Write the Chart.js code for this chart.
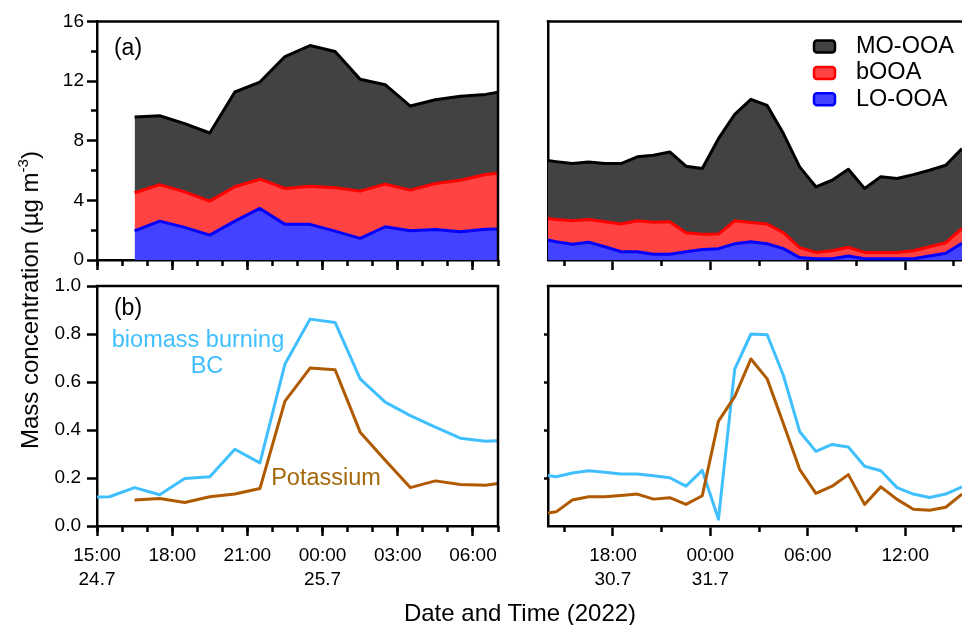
<!DOCTYPE html>
<html>
<head>
<meta charset="utf-8">
<script src="https://cdn.jsdelivr.net/npm/chart.js@4.4.1/dist/chart.umd.min.js"></script>
<style>
  html, body { margin: 0; padding: 0; background: #fff; overflow: hidden; }
  #page { position: relative; width: 962px; height: 625px; font-family: 'Liberation Sans', Arial, sans-serif; color: #000; }
  #page canvas { position: absolute; left: 0; top: 0; }
  .lbl { position: absolute; white-space: nowrap; line-height: 1; transform: translate(-50%, -50%); }
  .ylab { transform: translate(-50%, -50%) rotate(-90deg); }
  .ylab sup { font-size: 15px; vertical-align: 0; position: relative; top: -10px; }
</style>
</head>
<body>
<div id="page">
  <canvas id="topLeft" width="962" height="625"></canvas>
  <canvas id="topRight" width="962" height="625"></canvas>
  <canvas id="bottomLeft" width="962" height="625"></canvas>
  <canvas id="bottomRight" width="962" height="625"></canvas>

  <div class="lbl" style="left:128px; top:47px; font-size:23px">(a)</div>
  <div class="lbl" style="left:128px; top:307px; font-size:23px">(b)</div>
  <div class="lbl" style="left:198px; top:340px; font-size:23.5px; color:#40bfff">biomass burning</div>
  <div class="lbl" style="left:207px; top:366px; font-size:23.5px; color:#40bfff">BC</div>
  <div class="lbl" style="left:326px; top:478px; font-size:23.5px; color:#a4680a">Potassium</div>
  <div class="lbl" style="left:520px; top:613px; font-size:24px">Date and Time (2022)</div>
  <div class="lbl ylab" style="left:30px; top:300px; font-size:24px">Mass concentration (µg m<sup>-3</sup>)</div>
</div>

<script>
// hours counted from 24.7.2022 00:00
const leftTimes = [14.5, 15.5, 16.5, 17.5, 18.5, 19.5, 20.5, 21.5, 22.5, 23.5, 24.5, 25.5, 26.5, 27.5, 28.5, 29.5, 30.5, 31.5];
const leftLOOOA = [null, null, 1.96, 2.61, 2.19, 1.67, 2.61, 3.46, 2.39, 2.39, 1.94, 1.45, 2.23, 1.96, 2.05, 1.89, 2.07, 2.10];
const leftbOOA = [null, null, 2.55, 2.45, 2.38, 2.28, 2.30, 1.96, 2.41, 2.56, 2.90, 3.17, 2.86, 2.73, 3.08, 3.46, 3.66, 3.80];
const leftMOOOA = [null, null, 5.08, 4.62, 4.58, 4.57, 6.36, 6.52, 8.85, 9.44, 9.15, 7.50, 6.67, 5.64, 5.62, 5.63, 5.38, 5.50];
const leftBC = [0.120, 0.122, 0.160, 0.130, 0.198, 0.205, 0.320, 0.263, 0.675, 0.862, 0.848, 0.613, 0.516, 0.460, 0.412, 0.366, 0.353, 0.357];
const leftK = [null, null, 0.108, 0.115, 0.098, 0.122, 0.133, 0.156, 0.520, 0.658, 0.651, 0.391, 0.274, 0.160, 0.188, 0.173, 0.170, 0.184];

const rightTimes = [157.5, 158.5, 159.5, 160.5, 161.5, 162.5, 163.5, 164.5, 165.5, 166.5, 167.5, 168.5, 169.5, 170.5,
  171.5, 172.5, 173.5, 174.5, 175.5, 176.5, 177.5, 178.5, 179.5, 180.5, 181.5, 182.5, 183.5];
const rightLOOOA = [1.45, 1.23, 1.05, 1.20, 0.89, 0.56, 0.56, 0.38, 0.38, 0.56, 0.71, 0.76, 1.09, 1.23,
  1.09, 0.76, 0.16, 0.09, 0.09, 0.27, 0.09, 0.09, 0.09, 0.09, 0.27, 0.45, 1.12];
const rightbOOA = [1.40, 1.49, 1.58, 1.52, 1.68, 1.85, 2.07, 2.16, 2.19, 1.27, 1.01, 0.98, 1.54, 1.29,
  1.32, 1.07, 0.67, 0.42, 0.53, 0.58, 0.42, 0.42, 0.42, 0.53, 0.62, 0.71, 1.00];
const rightMOOOA = [3.90, 3.88, 3.84, 3.86, 3.90, 4.06, 4.29, 4.49, 4.68, 4.46, 4.42, 6.40, 7.14, 8.26,
  7.96, 6.65, 5.42, 4.40, 4.73, 5.24, 4.29, 5.07, 4.96, 5.11, 5.13, 5.20, 5.35];
const rightBC = [0.215, 0.205, 0.221, 0.230, 0.224, 0.217, 0.217, 0.209, 0.201, 0.166, 0.232, 0.028, 0.654, 0.800,
  0.797, 0.627, 0.394, 0.311, 0.340, 0.329, 0.249, 0.230, 0.160, 0.133, 0.119, 0.133, 0.163];
const rightK = [0.050, 0.059, 0.108, 0.122, 0.122, 0.127, 0.133, 0.112, 0.118, 0.090, 0.126, 0.437, 0.539, 0.696,
  0.613, 0.426, 0.236, 0.136, 0.166, 0.214, 0.090, 0.163, 0.111, 0.070, 0.066, 0.078, 0.133];

const leftTickHours = [15, 18, 21, 24, 27, 30];
const leftTickLabels = [['15:00', '24.7'], '18:00', '21:00', ['00:00', '25.7'], '03:00', '06:00'];
const leftMinorHours = [15, 16, 17, 18, 19, 20, 21, 22, 23, 24, 25, 26, 27, 28, 29, 30, 31];
const rightTickHours = [162, 168, 174, 180];
const rightTickLabels = [['18:00', '30.7'], ['00:00', '31.7'], '06:00', '12:00'];
const rightMinorHours = [159, 165, 171, 177, 183];

const aerosolTicks = [0, 4, 8, 12, 16];
const aerosolMinorTicks = [2, 6, 10, 14];
const tracerTicks = [0, 0.2, 0.4, 0.6, 0.8, 1.0];

const FONT = "'Liberation Sans', Arial, sans-serif";
const AXIS_W = 2.5;

Chart.defaults.font.family = FONT;
Chart.defaults.font.size = 19;
Chart.defaults.color = '#000';
Chart.defaults.animation = false;
Chart.defaults.plugins.legend.display = false;
Chart.defaults.plugins.tooltip.enabled = false;

function points(times, values) {
  return times.map((t, i) => ({ x: t, y: values[i] })).filter(p => p.y !== null);
}

function setTicks(list) {
  return scale => { scale.ticks = list.map(v => ({ value: v })); };
}

function tickLine(length, show) {
  return { drawOnChartArea: false, drawTicks: show !== false, tickLength: length, tickWidth: AXIS_W, tickColor: '#000' };
}

// top and right edges of the plot box
const framePlugin = {
  id: 'frame',
  afterDraw(chart, args, opts) {
    const { ctx, chartArea: a } = chart;
    ctx.save();
    ctx.strokeStyle = '#000';
    ctx.lineWidth = AXIS_W;
    ctx.lineCap = 'square';
    ctx.beginPath();
    ctx.moveTo(a.left, a.top);
    ctx.lineTo(a.right, a.top);
    if (opts.right) {
      ctx.moveTo(a.right, a.top);
      ctx.lineTo(a.right, a.bottom);
    }
    ctx.stroke();
    ctx.restore();
  }
};

const swatchLegend = {
  id: 'swatchLegend',
  afterDraw(chart, args, opts) {
    if (!opts.show) return;
    const ctx = chart.ctx;
    const sets = chart.data.datasets.slice().reverse();
    ctx.save();
    ctx.font = '23.5px ' + FONT;
    ctx.textBaseline = 'middle';
    ctx.textAlign = 'left';
    sets.forEach((ds, i) => {
      const y = opts.top + i * opts.step;
      ctx.beginPath();
      ctx.roundRect(opts.left, y - 6, 21, 12, 3);
      ctx.fillStyle = ds.backgroundColor;
      ctx.fill();
      ctx.lineWidth = 2.5;
      ctx.strokeStyle = ds.borderColor;
      ctx.stroke();
      ctx.fillStyle = '#000';
      ctx.fillText(ds.label, opts.left + 42, y);
    });
    ctx.restore();
  }
};

function xScales(min, max, major, minor, labels, height) {
  return {
    x: {
      type: 'linear', min: min, max: max,
      afterBuildTicks: setTicks(major),
      afterFit: s => { s.height = height; },
      border: { color: '#000', width: AXIS_W },
      grid: tickLine(10),
      ticks: {
        display: !!labels, autoSkip: false, maxRotation: 0, padding: 7,
        font: { size: 19, lineHeight: 1.3 },
        callback: v => labels ? labels[major.indexOf(v)] : ''
      }
    },
    xMinor: {
      type: 'linear', min: min, max: max, position: { y: 0 },
      afterBuildTicks: setTicks(minor),
      border: { display: false },
      grid: tickLine(6),
      ticks: { display: false }
    }
  };
}

function makeChart(id, cfg) {
  const stacked = cfg.kind === 'aerosol';
  let datasets;
  if (stacked) {
    datasets = [
      { label: 'LO-OOA', data: points(cfg.times, cfg.lo), backgroundColor: '#4242ff', borderColor: '#0000ff', fill: 'origin' },
      { label: 'bOOA', data: points(cfg.times, cfg.b), backgroundColor: '#ff4242', borderColor: '#ff0000', fill: '-1' },
      { label: 'MO-OOA', data: points(cfg.times, cfg.mo), backgroundColor: '#424242', borderColor: '#000000', fill: '-1' }
    ];
  } else {
    datasets = [
      { label: 'Potassium', data: points(cfg.times, cfg.k), borderColor: '#b05a00', fill: false },
      { label: 'biomass burning BC', data: points(cfg.times, cfg.bc), borderColor: '#40bfff', fill: false }
    ];
  }
  datasets.forEach(ds => {
    ds.borderWidth = 3;
    ds.pointRadius = 0;
    ds.tension = 0;
    ds.borderJoinStyle = 'round';
    ds.clip = { left: 0, right: 0, top: false, bottom: false };
  });

  const scales = xScales(cfg.xmin, cfg.xmax, cfg.major, cfg.minor, cfg.labels, cfg.xHeight);
  const yMax = stacked ? 16 : 1.0;
  scales.y = {
    type: 'linear', min: 0, max: yMax, stacked: stacked,
    afterBuildTicks: setTicks(cfg.yTicks),
    afterFit: s => { s.width = cfg.yWidth; },
    border: { color: '#000', width: AXIS_W },
    grid: tickLine(cfg.yTickLen, cfg.yTickLen > 0),
    ticks: {
      display: cfg.yLabels, padding: cfg.yPad,
      callback: v => stacked ? String(v) : v.toFixed(1)
    }
  };
  if (cfg.yMinor) {
    scales.yMinor = {
      type: 'linear', min: 0, max: yMax, position: { x: cfg.xmin },
      afterBuildTicks: setTicks(cfg.yMinor),
      border: { display: false },
      grid: tickLine(6),
      ticks: { display: false }
    };
  }

  return new Chart(document.getElementById(id), {
    type: 'line',
    data: { datasets: datasets },
    options: {
      responsive: false,
      layout: { padding: cfg.pad },
      scales: scales,
      plugins: {
        frame: { right: cfg.frameRight },
        swatchLegend: cfg.legend || { show: false }
      }
    },
    plugins: [framePlugin, swatchLegend]
  });
}

makeChart('topLeft', {
  kind: 'aerosol', times: leftTimes, lo: leftLOOOA, b: leftbOOA, mo: leftMOOOA,
  xmin: 15, xmax: 31, major: leftTickHours, minor: leftMinorHours, labels: null, xHeight: 20,
  yTicks: aerosolTicks, yMinor: aerosolMinorTicks, yWidth: 97, yTickLen: 10, yPad: 3, yLabels: true,
  pad: { top: 21.5, left: 0, right: 464, bottom: 345 }, frameRight: true
});

makeChart('topRight', {
  kind: 'aerosol', times: rightTimes, lo: rightLOOOA, b: rightbOOA, mo: rightMOOOA,
  xmin: 158, xmax: 183.5, major: rightTickHours, minor: rightMinorHours, labels: null, xHeight: 20,
  yTicks: aerosolTicks, yMinor: null, yWidth: 10, yTickLen: 0, yPad: 0, yLabels: false,
  pad: { top: 21.5, left: 538, right: 0, bottom: 345 }, frameRight: false,
  legend: { show: true, left: 814, top: 46.5, step: 26.4 }
});

makeChart('bottomLeft', {
  kind: 'tracer', times: leftTimes, bc: leftBC, k: leftK,
  xmin: 15, xmax: 31, major: leftTickHours, minor: leftMinorHours, labels: leftTickLabels, xHeight: 70,
  yTicks: tracerTicks, yMinor: null, yWidth: 97, yTickLen: 10, yPad: 6, yLabels: true,
  pad: { top: 286, left: 0, right: 464, bottom: 29 }, frameRight: true
});

makeChart('bottomRight', {
  kind: 'tracer', times: rightTimes, bc: rightBC, k: rightK,
  xmin: 158, xmax: 183.5, major: rightTickHours, minor: rightMinorHours, labels: rightTickLabels, xHeight: 70,
  yTicks: [0.2, 0.4, 0.6, 0.8], yMinor: null, yWidth: 10, yTickLen: 4, yPad: 0, yLabels: false,
  pad: { top: 286, left: 538, right: 0, bottom: 29 }, frameRight: false
});
</script>
</body>
</html>
